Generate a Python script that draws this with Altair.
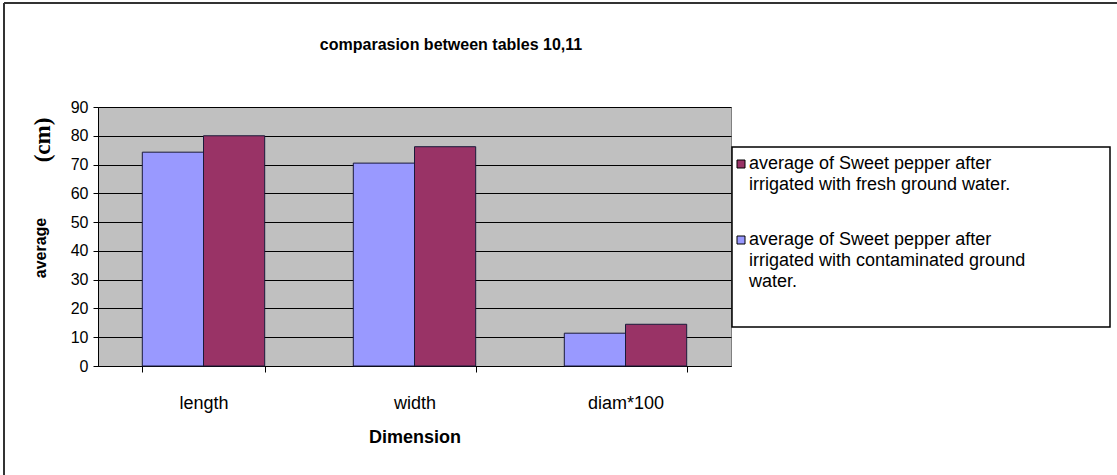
import altair as alt
import pandas as pd

# ---- data ----
categories = ["length", "width", "diam*100"]
series_contaminated = "average of Sweet pepper after irrigated with contaminated ground water."
series_fresh = "average of Sweet pepper after irrigated with fresh ground water."
contaminated_values = [74.3, 70.5, 11.4]
fresh_values = [80.0, 76.2, 14.5]
y_ticks = [0, 10, 20, 30, 40, 50, 60, 70, 80, 90]
legend_fresh_lines = ["average of Sweet pepper after", "irrigated with fresh ground water."]
legend_contam_lines = ["average of Sweet pepper after", "irrigated with contaminated ground", "water."]
title_text = "comparasion between tables 10,11"
x_title = "Dimension"
y_title_word = "average"
y_title_unit = "(cm)"
series_colors = ["#993366", "#9999FF"]

rows = []
for c, a, b in zip(categories, contaminated_values, fresh_values):
    rows.append({"dimension": c, "series": series_contaminated, "value": a})
    rows.append({"dimension": c, "series": series_fresh, "value": b})
df = pd.DataFrame(rows)

W, H = 633, 259
PL, PT = 98, 107
one = pd.DataFrame({"k": [0]})

color_scale = alt.Scale(domain=[series_fresh, series_contaminated], range=series_colors)

frame_left = alt.Chart(one).mark_rule(stroke="#333333", strokeWidth=2).encode(
    x=alt.value(4 - PL), y=alt.value(3 - PT), y2=alt.value(475 - PT)
)
frame_top = alt.Chart(one).mark_rule(stroke="#333333", strokeWidth=2).encode(
    x=alt.value(4 - PL), x2=alt.value(1117 - PL), y=alt.value(3 - PT)
)

bars = alt.Chart(df).mark_bar(stroke="#1a1a3a", strokeWidth=1).encode(
    x=alt.X(
        "dimension:N",
        sort=categories,
        scale=alt.Scale(paddingInner=0.42, paddingOuter=0.21),
        axis=alt.Axis(
            title=x_title, labelAngle=0, tickBand="extent", tickSize=6,
            labelPadding=22, titlePadding=16, grid=False, labelFontSize=18,
        ),
    ),
    xOffset=alt.XOffset(
        "series:N", sort=[series_contaminated, series_fresh],
        scale=alt.Scale(paddingInner=0, paddingOuter=0),
    ),
    y=alt.Y(
        "value:Q",
        scale=alt.Scale(domain=[0, 90], nice=False),
        axis=alt.Axis(values=y_ticks, title=None, grid=True, gridColor="black",
                      gridOpacity=1, tickSize=5, labelPadding=5, labelFontSize=16),
    ),
    color=alt.Color("series:N", scale=color_scale, legend=None),
)

title = alt.Chart(one).mark_text(
    text=title_text, font="Liberation Sans", fontWeight="bold", fontSize=16,
    align="center", baseline="middle", color="black",
).encode(x=alt.value(451 - PL), y=alt.value(45 - PT))

ytitle_word = alt.Chart(one).mark_text(
    text=y_title_word, font="Liberation Sans", fontWeight="bold",
    fontSize=16, angle=270, align="center", baseline="middle", color="black",
).encode(x=alt.value(41 - PL), y=alt.value(248 - PT))

ytitle_unit = alt.Chart(one).mark_text(
    text=y_title_unit, font="Liberation Serif", fontWeight="bold",
    fontSize=23, angle=270, align="center", baseline="middle", color="black",
).encode(x=alt.value(43 - PL), y=alt.value(140 - PT))

legend_box = alt.Chart(one).mark_rect(fill="white", stroke="black", strokeWidth=1.5).encode(
    x=alt.value(732 - PL), x2=alt.value(1110 - PL), y=alt.value(147 - PT), y2=alt.value(327 - PT)
)

sq_fresh = alt.Chart(pd.DataFrame({"series": [series_fresh]})).mark_square(
    size=64, stroke="black", strokeWidth=1, opacity=1, filled=True
).encode(x=alt.value(741 - PL), y=alt.value(164 - PT),
         color=alt.Color("series:N", scale=color_scale, legend=None))

sq_contam = alt.Chart(pd.DataFrame({"series": [series_contaminated]})).mark_square(
    size=64, stroke="black", strokeWidth=1, opacity=1, filled=True
).encode(x=alt.value(741 - PL), y=alt.value(240 - PT),
         color=alt.Color("series:N", scale=color_scale, legend=None))

lbl_kw = dict(font="Liberation Sans", fontSize=18, lineHeight=21, align="left",
              baseline="middle", color="black")
lbl_fresh = alt.Chart(one).mark_text(text=legend_fresh_lines, **lbl_kw).encode(
    x=alt.value(749 - PL), y=alt.value(164 - PT))
lbl_contam = alt.Chart(one).mark_text(text=legend_contam_lines, **lbl_kw).encode(
    x=alt.value(749 - PL), y=alt.value(240 - PT))

chart = alt.layer(
    frame_left, frame_top, bars, title, ytitle_word, ytitle_unit,
    legend_box, sq_fresh, sq_contam, lbl_fresh, lbl_contam
).properties(
    width=W, height=H,
    autosize=alt.AutoSizeParams(type="none"),
    padding={"left": PL, "top": PT, "right": 1117 - PL - W, "bottom": 475 - PT - H},
    background="white",
).configure_view(
    fill="#C0C0C0", stroke="#808080"
).configure_axis(
    labelFont="Liberation Sans", labelColor="black",
    tickColor="black", domainColor="black",
    titleFont="Liberation Sans", titleFontSize=18,
    titleFontWeight="bold", titleColor="black",
)

chart.save("out.html", embed_options={"renderer": "svg", "actions": False})
